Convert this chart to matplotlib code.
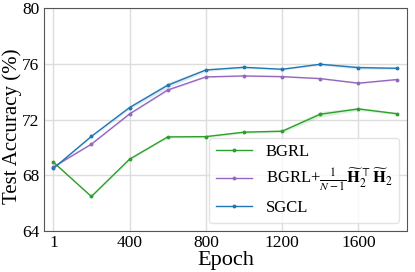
import matplotlib
matplotlib.use("Agg")
import matplotlib.pyplot as plt
import numpy as np

plt.rcParams['font.family'] = ['Liberation Serif', 'DejaVu Serif']
plt.rcParams['mathtext.fontset'] = 'stix'

epochs = [1, 200, 400, 600, 800, 1000, 1200, 1400, 1600, 1800]
bgrl = [68.94, 66.48, 69.16, 70.76, 70.78, 71.10, 71.17, 72.39, 72.77, 72.43]
bgrl_std = [0.08, 0.05, 0.08, 0.08, 0.08, 0.08, 0.1, 0.2, 0.12, 0.08]
bgrl_h = [68.60, 70.24, 72.41, 74.13, 75.07, 75.14, 75.09, 74.95, 74.62, 74.88]
bgrl_h_std = [0.05, 0.05, 0.06, 0.08, 0.05, 0.05, 0.05, 0.05, 0.05, 0.05]
sgcl = [68.50, 70.80, 72.87, 74.47, 75.57, 75.76, 75.62, 75.98, 75.74, 75.69]
sgcl_std = [0.05, 0.08, 0.12, 0.2, 0.1, 0.08, 0.06, 0.08, 0.12, 0.08]

xticks = [1, 400, 800, 1200, 1600]
yticks = [64, 68, 72, 76, 80]

fig = plt.figure(figsize=(4.15, 2.72), dpi=100)
ax = fig.add_axes([43.7/415, 1 - 231/272, (407.3-43.7)/415, (231-8.3)/272])

series = [
    (bgrl, bgrl_std, '#2ca02c', 'BGRL'),
    (bgrl_h, bgrl_h_std, '#9467bd', r'BGRL+$\frac{1}{N-1}\widetilde{\mathbf{H}}_2^{\top}\widetilde{\mathbf{H}}_2$'),
    (sgcl, sgcl_std, '#1f77b4', 'SGCL'),
]
e = np.array(epochs)
for vals, std, c, lab in series:
    v = np.array(vals); s = np.array(std)
    ax.fill_between(e, v - s, v + s, color=c, alpha=0.15, lw=0)
    ax.plot(e, v, color=c, lw=1.0, marker='o', ms=1.8, label=lab)

ax.set_xlim(-50, 1856)
ax.set_ylim(64, 80)
ax.set_xticks(xticks)
ax.set_yticks(yticks)
ax.tick_params(labelsize=12.5, length=0, pad=3)
ax.grid(True, color='#dddddd', lw=1.0)
ax.set_axisbelow(True)
for sp in ax.spines.values():
    sp.set_color('#555555')
    sp.set_linewidth(0.8)
ax.set_xlabel('Epoch', fontsize=16, labelpad=0)
ax.set_ylabel('Test Accuracy (%)', fontsize=15)
ax.yaxis.set_label_coords(-0.06, 0.47)
ax.legend(loc='lower right', fontsize=12, framealpha=0.8, edgecolor='#dddddd',
          handlelength=2.2, borderpad=0.4, labelspacing=0.4)

fig.savefig('out.png', dpi=100)
